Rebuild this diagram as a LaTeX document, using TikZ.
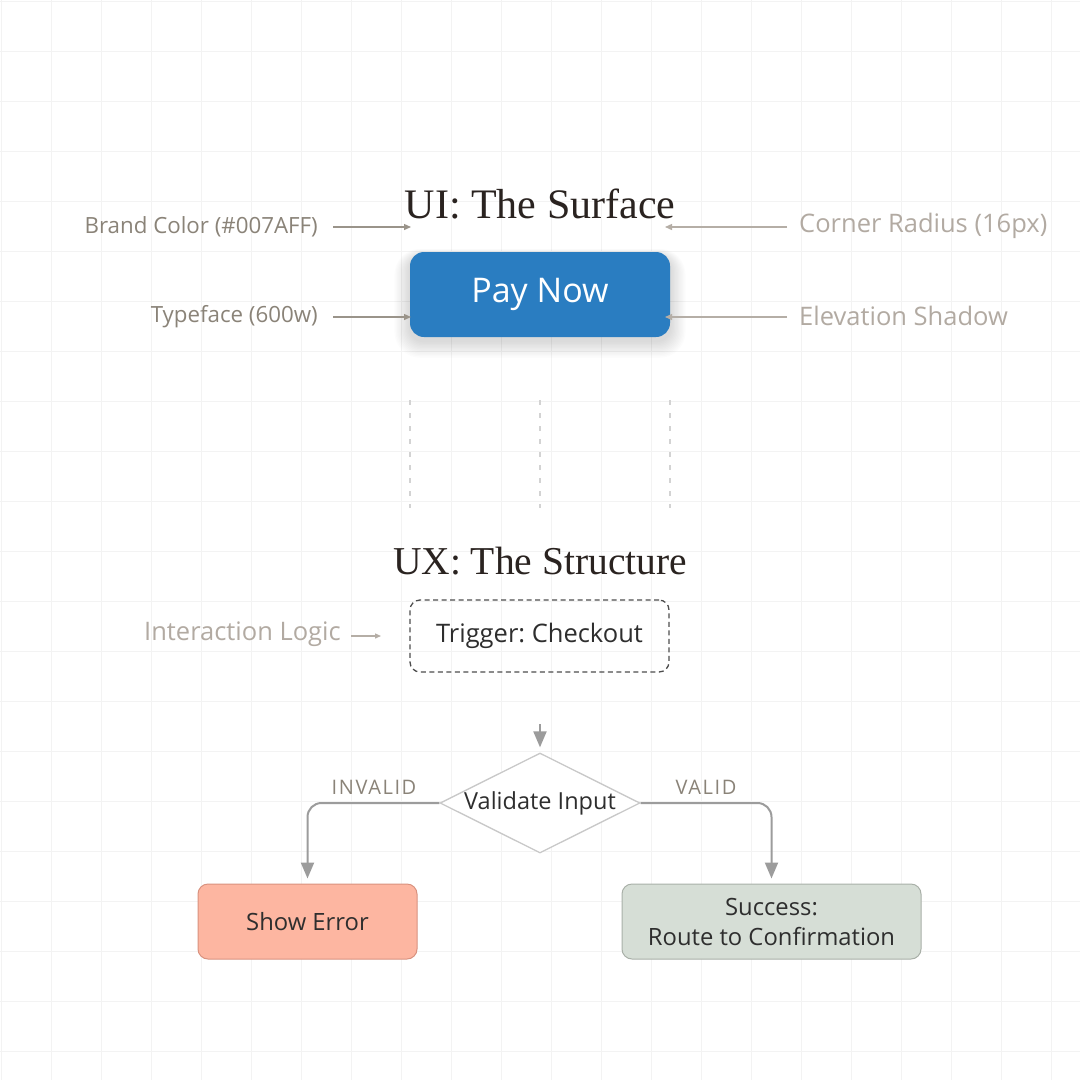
\documentclass[tikz,border=0pt]{standalone}
\usepackage{fontspec}
\setmainfont{Liberation Serif}
\newfontfamily\lab{Open Sans}
\frenchspacing
\usetikzlibrary{arrows.meta,shapes.geometric}
\definecolor{gridc}{HTML}{F3F3F3}
\definecolor{btn}{HTML}{2A7DC1}
\definecolor{labdark}{HTML}{8A8378}
\definecolor{lablight}{HTML}{B2AAA2}
\definecolor{annarrow}{HTML}{9A948A}
\definecolor{annarrowl}{HTML}{B5AEA6}
\definecolor{textc}{HTML}{2E2E2E}
\definecolor{errfill}{HTML}{FDB6A1}
\definecolor{errdraw}{HTML}{D9927F}
\definecolor{okfill}{HTML}{D6DED6}
\definecolor{okdraw}{HTML}{A9B0A8}
\definecolor{flowc}{HTML}{9C9C9C}
\definecolor{diac}{HTML}{C8C8C8}
\definecolor{titlec}{HTML}{2A2320}
\tikzset{
  title/.style={font=\fontsize{42}{46}\selectfont, text=titlec, inner sep=0},
  annl/.style={font=\lab\fontsize{22.3}{26}\selectfont, text=labdark, inner sep=0},
  annr/.style={font=\lab\fontsize{25.5}{28}\selectfont, text=lablight, inner sep=0},
  annarrowstyle/.style={draw=annarrow, line width=1.3pt, -{Triangle[length=7pt,width=6pt]}},
  annarrowlight/.style={draw=annarrowl, line width=1.3pt, -{Triangle[length=7pt,width=6pt]}},
  flow/.style={draw=flowc, line width=2pt, -{Triangle[length=16pt,width=13pt]}},
  box/.style={rounded corners=10pt, line width=1pt, font=\lab\fontsize{23.8}{30}\selectfont, text=textc, align=center, inner sep=0},
}
\begin{document}
\begin{tikzpicture}[x=1pt,y=-1pt]
\useasboundingbox (0,0) rectangle (1080,1080);
\fill[white] (0,0) rectangle (1080,1080);
% grid
\foreach \i in {0,...,21} {
  \draw[gridc, line width=1pt] (1.7+50*\i,0) -- (1.7+50*\i,1080);
  \draw[gridc, line width=1pt] (0,1.7+50*\i) -- (1080,1.7+50*\i);
}
% ---------- UI ----------
\node[title] (uit) at (540,204) {UI: The Surface};
% shadow
\foreach \k in {1,...,12} {
  \fill[black, opacity=0.011, rounded corners=14pt+\k pt]
    (410-\k*1.3,252-\k*0.6+4) rectangle (670+\k*1.3,337+\k*1.4+4);
}
\node[fill=btn, rounded corners=14pt, minimum width=260pt, minimum height=85pt, inner sep=0,
  text=white, font=\lab\fontsize{34}{38}\selectfont] (btn) at (540,294.5) {\raisebox{-3pt}{Pay Now}};

\node[annl, anchor=east] (brand) at (318,227) {Brand Color (\#007AFF)};
\node[annl, anchor=east] (type) at (318,317) {Typeface (600w)};
\node[annr, anchor=west] (corner) at (799,226) {Corner Radius (16px)};
\node[annr, anchor=west] (elev) at (799,316) {Elevation Shadow};
\coordinate (brandend) at (411,227);
\coordinate (cornerend) at (665,227);
\coordinate (typeend) at (411,317);
\coordinate (elevend) at (665,317);
\draw[annarrowstyle] (brand.east) ++(15,0) -- (brandend);
\draw[annarrowstyle] (type.east) ++(15,0) -- (typeend);
\draw[annarrowlight] (corner.west) ++(-12,1) -- (cornerend);
\draw[annarrowlight] (elev.west) ++(-12,1) -- (elevend);

% dashed guides
\foreach \x/\n in {410/ga,540/gb,670/gc} {
  \coordinate (\n1) at (\x,400);
  \coordinate (\n2) at (\x,508);
  \draw[draw=diac!80, line width=1.3pt, dash pattern=on 4.5pt off 8.5pt] (\n1) -- (\n2);
}

% ---------- UX ----------
\node[title, font=\fontsize{39.5}{44}\selectfont] (uxt) at (540,561) {UX: The Structure};
\node[box, draw=textc!85, dashed, dash pattern=on 5pt off 3.5pt, line width=1.3pt, minimum width=259pt, minimum height=72pt,
  font=\lab\fontsize{25.5}{30}\selectfont] (trig) at (539.5,636) {\raisebox{-3pt}{Trigger: Checkout}};
\node[annr, anchor=east] (inter) at (341,634) {Interaction Logic};
\coordinate (interend) at (381,636);
\draw[annarrowlight, -{Triangle[length=6pt,width=5pt]}] (inter.east) ++(10,2) -- (interend);

\node[diamond, aspect=2, draw=diac, fill=white, line width=1.3pt, minimum width=200pt, minimum height=100pt, inner sep=0,
  font=\lab\fontsize{23.5}{26}\selectfont, text=textc] (dia) at (540,803) {Validate Input};
\coordinate (diain) at (540,724);
\draw[flow, shorten >=5pt] (diain) -- (dia.north);

\node[box, fill=errfill, draw=errdraw, minimum width=219pt, minimum height=75pt] (err) at (307.5,921.5) {Show Error};
\node[box, fill=okfill, draw=okdraw, minimum width=299pt, minimum height=75pt] (ok) at (771.5,921.5) {Success:\\Route to Confirmation};

\draw[flow, rounded corners=14pt, shorten >=5pt] (dia.west) -| (err.north);
\draw[flow, rounded corners=14pt, shorten >=5pt] (dia.east) -| (ok.north);
\node[annl, font=\lab\fontsize{20}{22}\selectfont\addfontfeature{LetterSpace=8}] (inv) at (374,787) {INVALID};
\node[annl, font=\lab\fontsize{20}{22}\selectfont\addfontfeature{LetterSpace=8}] (val) at (706,787) {VALID};
\end{tikzpicture}
\end{document}
